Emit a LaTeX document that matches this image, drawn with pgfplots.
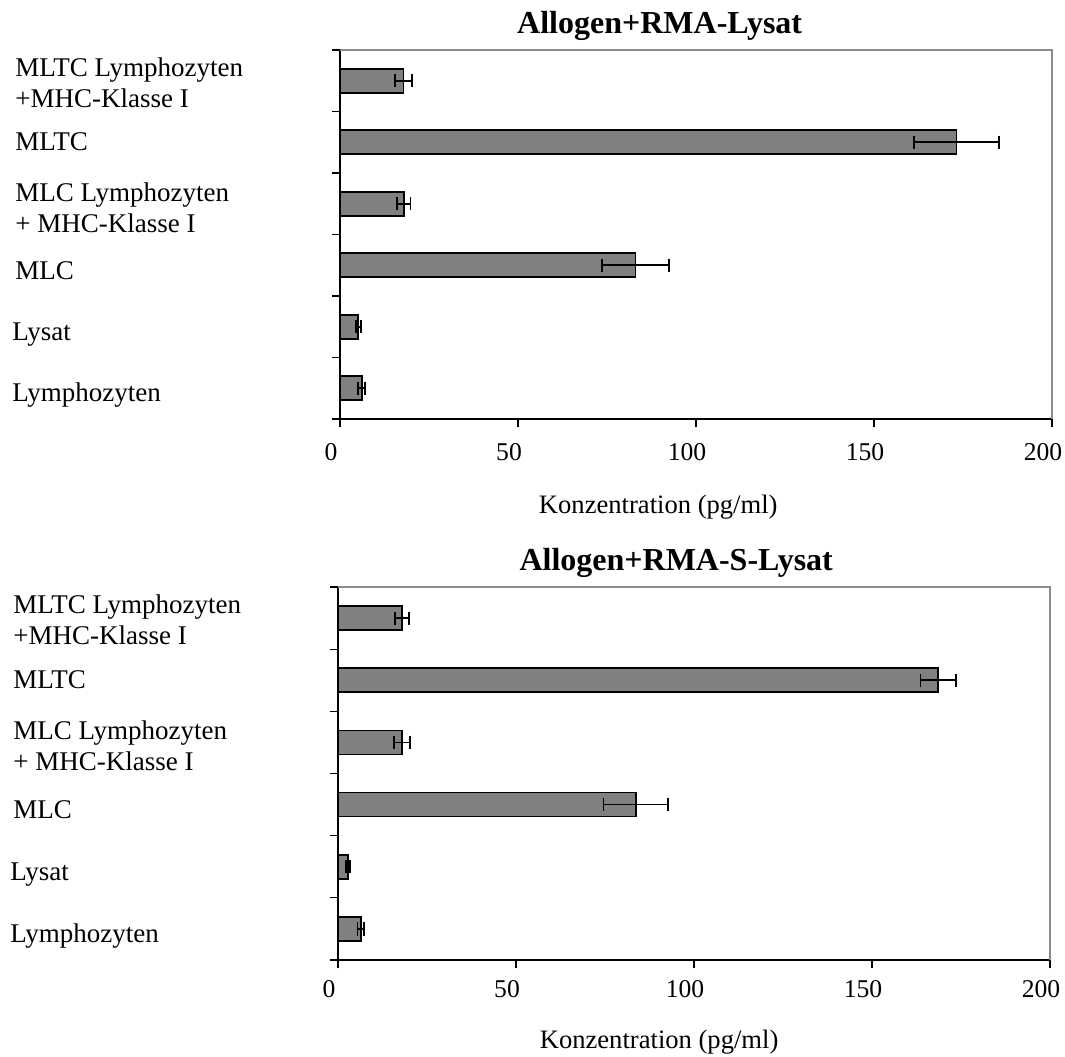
\documentclass[border=0pt]{standalone}
\usepackage{fontspec}
\setmainfont{Liberation Serif}
\usepackage{pgfplots}
\pgfplotsset{compat=1.18}

\definecolor{barfill}{RGB}{128,128,128}
\definecolor{framegray}{RGB}{140,140,140}

% category label: baseline set #1 below the tick, box without height/depth
\newcommand\lab[2]{\raisebox{-#1}[0pt][0pt]{#2}}
% two-line category label, aligned on its last line
\newcommand\labb[3]{\raisebox{-#1}[0pt][0pt]{\begin{tabular}[b]{@{}l@{}}#2\\#3\end{tabular}}}

\pgfplotsset{
  conc/.style={
    scale only axis,
    width=356pt,
    xmin=0, xmax=200,
    ymin=-0.5, ymax=5.5,
    xtick={0,50,...,200},
    minor xtick={0,50,...,200},
    ytick={0,...,5},
    minor ytick={-0.5,0.5,...,5.5},
    yticklabels={
      {\lab{6.7pt}{\hspace*{-1.5pt}Lymphozyten}},
      {\lab{6.8pt}{\hspace*{-1.5pt}Lysat}},
      {\lab{7pt}{MLC}},
      {\labb{14.2pt}{MLC Lymphozyten}{+ MHC-Klasse I}},
      {\lab{4pt}{MLTC}},
      {\labb{13.4pt}{MLTC Lymphozyten}{+MHC-Klasse I}}},
    axis x line*=bottom,
    axis y line*=left,
    axis line style={black, line width=0.6pt},
    tick align=outside,
    major tick length=0pt,
    minor tick length=4pt,
    every tick/.append style={black, line width=0.6pt},
    /pgf/number format/assume math mode=true,
    xticklabel style={anchor=base, xshift=-4.5pt, font=\fontsize{12.8}{15}\selectfont},
    yticklabel style={anchor=west, inner sep=0pt, xshift=-162.5pt,
      font=\fontsize{13.5}{15.5}\selectfont},
    xlabel={Konzentration (pg/ml)},
    xlabel style={anchor=base, font=\fontsize{13.3}{16}\selectfont},
    title style={anchor=base, yshift=2.5pt, font=\fontsize{16}{19}\selectfont\bfseries},
    xbar,
    bar width=12pt,
    clip=false,
  },
  concbar/.style={
    fill=barfill, draw=black, line width=0.8pt,
    error bars/.cd, x dir=both, x explicit,
    error mark=|,
    error bar style={black, line width=0.8pt},
    error mark options={black, mark size=3.3pt, line width=0.9pt},
  },
}

\begin{document}
\begin{tikzpicture}
\path[use as bounding box] (0,0) rectangle (532.5pt,-528pt);

% upper panel: lysate of RMA cells
\begin{axis}[conc, at={(170pt,-209.5pt)}, anchor=south west, height=184.5pt,
  title={Allogen+RMA-Lysat},
  title style={at={(0.449,1)}},
  xticklabel style={yshift=-20.5pt},
  xlabel style={at={(0.447,0)}, yshift=-47pt}]
  \addplot[concbar] coordinates {
    (6.1,0)   +- (1.0,0)
    (5.1,1)   +- (0.7,0)
    (83.0,2)  +- (9.5,0)
    (17.9,3)  +- (1.9,0)
    (173.2,4) +- (12.0,0)
    (17.8,5)  +- (2.4,0)
  };
  \draw[framegray, line width=1pt] (rel axis cs:0,1) -- (rel axis cs:1,1) -- (rel axis cs:1,0);
\end{axis}

% lower panel: lysate of RMA-S cells
\begin{axis}[conc, at={(169pt,-480pt)}, anchor=south west, height=186.5pt,
  title={Allogen+RMA-S-Lysat},
  title style={at={(0.475,1)}},
  xticklabel style={yshift=-18.5pt},
  xlabel style={at={(0.451,0)}, yshift=-44pt}]
  \addplot[concbar] coordinates {
    (6.4,0)   +- (0.9,0)
    (2.8,1)   +- (0.6,0)
    (83.7,2)  +- (9.1,0)
    (18.0,3)  +- (2.3,0)
    (168.6,4) +- (5.0,0)
    (18.0,5)  +- (2.0,0)
  };
  \draw[framegray, line width=1pt] (rel axis cs:0,1) -- (rel axis cs:1,1) -- (rel axis cs:1,0);
\end{axis}
\end{tikzpicture}
\end{document}
